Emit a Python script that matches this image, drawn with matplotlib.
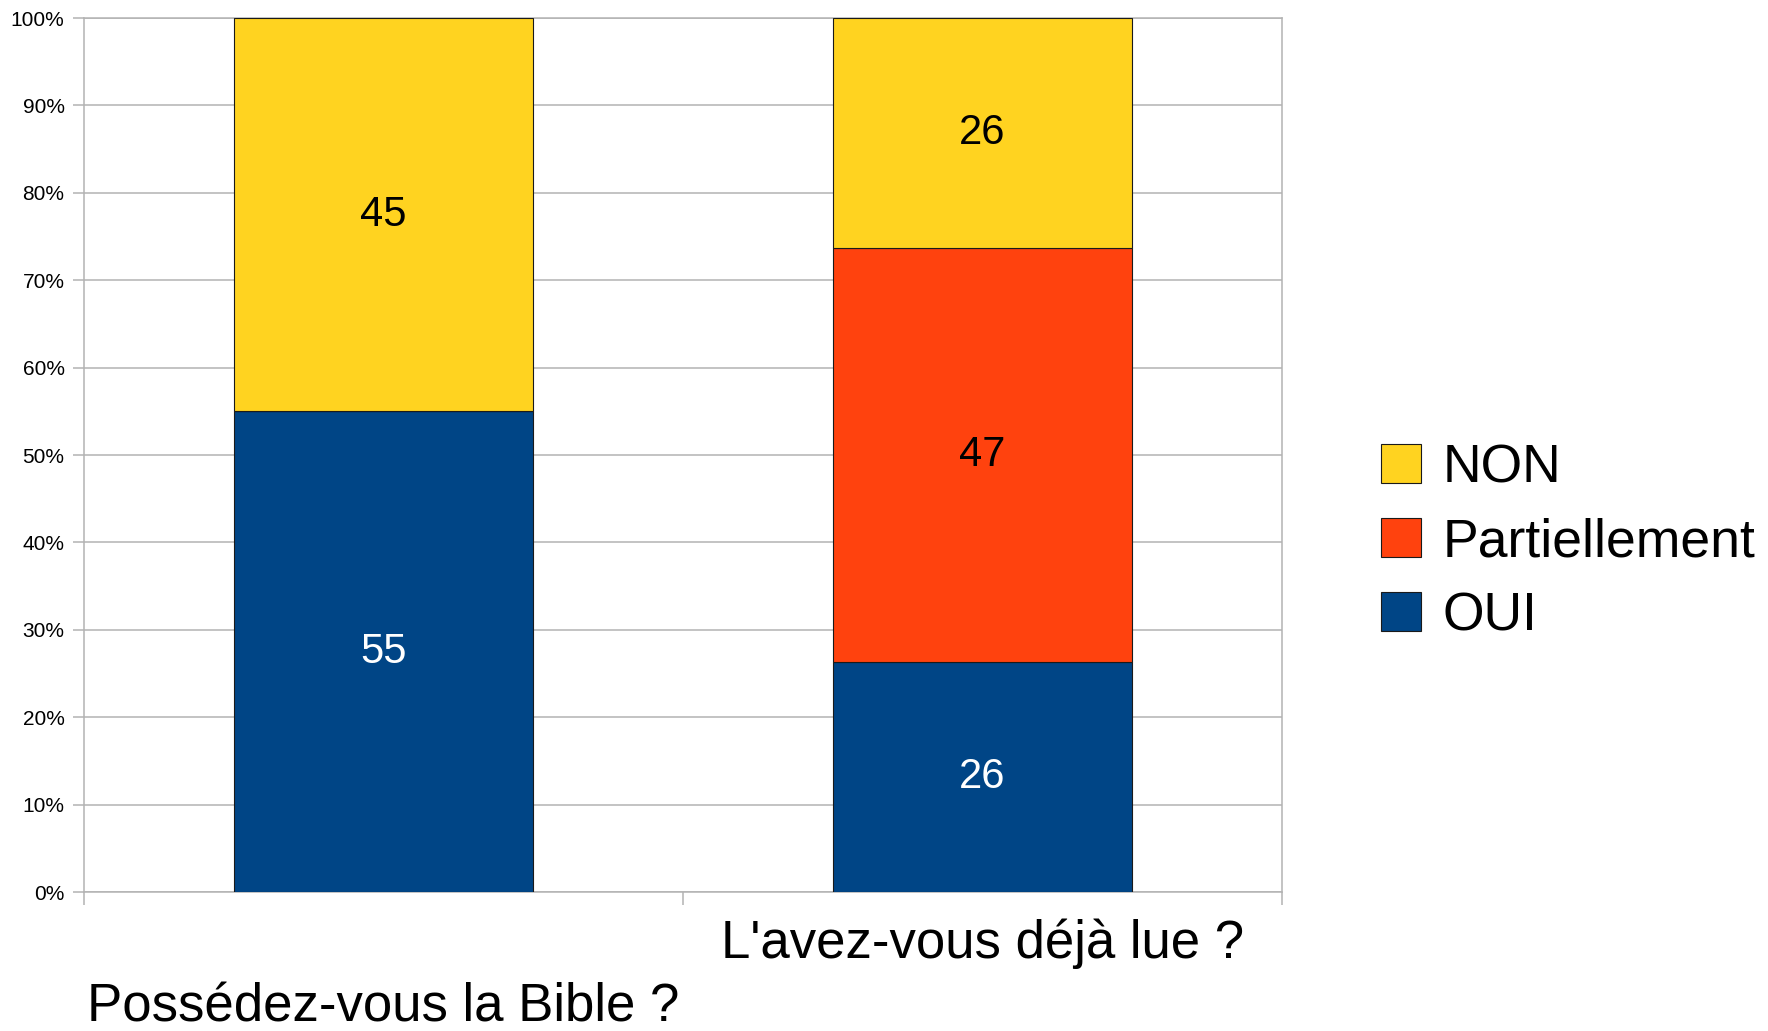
import matplotlib.pyplot as plt
from matplotlib.patches import Patch
import numpy as np

plt.rcParams['font.family'] = ['Liberation Sans', 'DejaVu Sans']

# survey answers, raw counts (stacked to 100 %)
questions = ["Possédez-vous la Bible ?", "L'avez-vous déjà lue ?"]
series = ["OUI", "Partiellement", "NON"]
oui = [55, 26]
partiel = [0, 47]
non = [45, 26]
colors = ["#004586", "#ff420e", "#ffd320"]
label_colors = ["white", "black", "black"]

values = np.array([oui, partiel, non], dtype=float)
shares = values / values.sum(axis=0) * 100

fig = plt.figure(figsize=(17.68, 10.31), dpi=100)
ax = fig.add_axes([0.0475, 0.1348, 0.6775, 0.8477])

x = np.arange(len(questions))
bottom = np.zeros(len(questions))
for i, name in enumerate(series):
    ax.bar(x, shares[i], 0.5, bottom=bottom, color=colors[i],
           edgecolor="#1a1a1a", linewidth=0.8, zorder=3)
    for j in range(len(questions)):
        if values[i, j] > 0:
            ax.text(x[j], bottom[j] + shares[i, j] / 2, "%d" % values[i, j],
                    ha="center", va="center", fontsize=30,
                    color=label_colors[i], zorder=4)
    bottom += shares[i]

ax.set_xlim(-0.5, len(questions) - 0.5)
ax.set_ylim(0, 100)
ax.set_yticks(np.arange(0, 101, 10))
ax.set_yticklabels(["%d%%" % v for v in range(0, 101, 10)], fontsize=15)
ax.yaxis.grid(True, color="#b3b3b3", linewidth=1.1, zorder=0)
ax.tick_params(axis="y", length=8, width=1.1, color="#b3b3b3", pad=6)

# category labels staggered, boundary ticks as minor
ax.set_xticks(x)
ax.set_xticklabels(questions, fontsize=38)
ax.tick_params(axis="x", which="major", length=0)
ax.set_xticks(np.arange(-0.5, len(questions), 1), minor=True)
ax.tick_params(axis="x", which="minor", length=9, width=1.1, color="#b3b3b3")
for k, tick in enumerate(ax.xaxis.get_major_ticks()):
    tick.set_pad(65 if k % 2 == 0 else 19)

for s in ax.spines.values():
    s.set_color("#b3b3b3")
    s.set_linewidth(1.1)

handles = [Patch(facecolor=colors[i], edgecolor="#1a1a1a", linewidth=0.8, label=series[i])
           for i in reversed(range(len(series)))]
fig.legend(handles=handles, loc="center left", bbox_to_anchor=(0.781, 0.474),
           frameon=False, fontsize=38.5, handlelength=0.75, handleheight=0.75,
           handletextpad=0.4, labelspacing=0.45, borderpad=0, borderaxespad=0)

fig.savefig("out.png", dpi=100)
